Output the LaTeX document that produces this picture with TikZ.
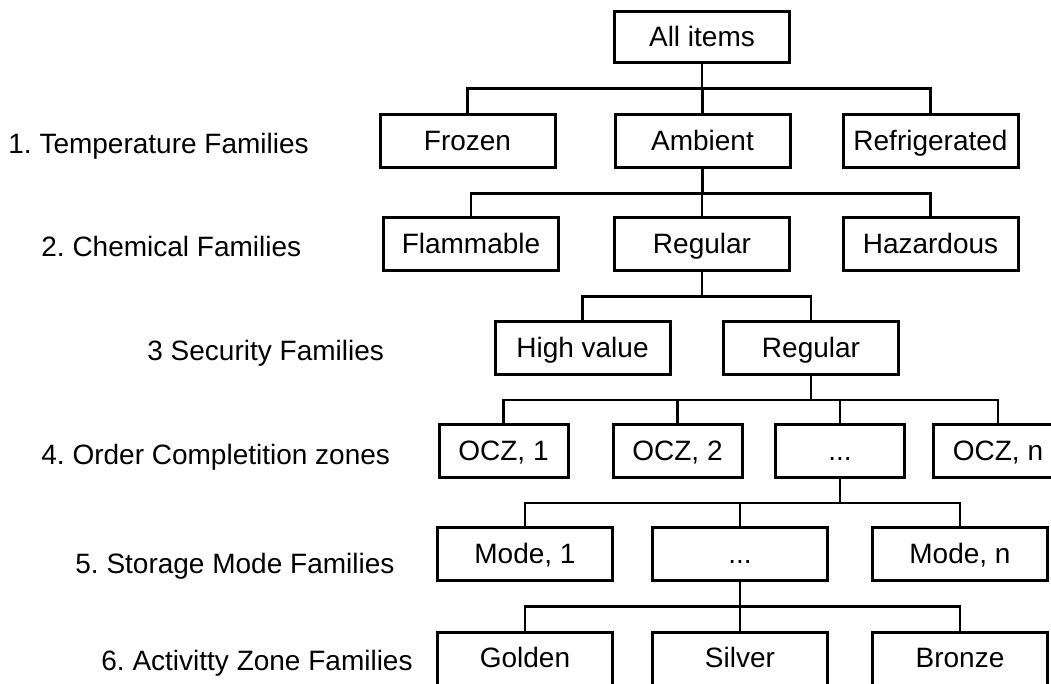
\documentclass[tikz,border=0pt]{standalone}
\usepackage{fontspec}
\setmainfont{Liberation Sans}
\frenchspacing

\begin{document}
\begin{tikzpicture}[x=0.5pt,y=-0.5pt,font=\fontsize{14}{16}\selectfont,
  fambox/.style={draw,line width=1.5pt,inner sep=0pt,text height=10pt,text depth=0.5pt,
                 minimum width=87.5pt,minimum height=26.5pt},
  oczbox/.style={fambox,minimum width=64.5pt},
  famlab/.style={anchor=base west,inner sep=0pt},
  link/.style={line width=1.2pt}]
\useasboundingbox (0,0) rectangle (1051,684);
\clip (0,0) rectangle (1051,684);

% level names on the left
\node[famlab] (lab1) at (8,154) {1. Temperature Families};
\node[famlab] (lab2) at (41,257) {2. Chemical Families};
\node[famlab] (lab3) at (147,361) {3 Security Families};
\node[famlab] (lab4) at (41,465) {4. Order Completition zones};
\node[famlab] (lab5) at (75,574) {5. Storage Mode Families};
\node[famlab] (lab6) at (101,670) {6. Activitty Zone Families};

% tree
\node[fambox,minimum height=25.5pt] (all) at (702,37.5) {All items};
\foreach \n/\x/\t in {frozen/467.5/Frozen, ambient/702.5/Ambient, refrig/930.5/Refrigerated}
  \node[fambox] (\n) at (\x,141.5) {\t};
\foreach \n/\x/\t in {flam/471/Flammable, chemreg/702/Regular, haz/930.5/Hazardous}
  \node[fambox] (\n) at (\x,244.5) {\t};
\foreach \n/\x/\t in {highval/582.5/High value, secreg/811/Regular}
  \node[fambox] (\n) at (\x,348) {\t};
\foreach \n/\x/\t in {ocza/503.5/{OCZ, 1}, oczb/677.5/{OCZ, 2}, oczdots/840/{...}, oczn/998/{OCZ, n}}
  \node[oczbox] (\n) at (\x,451) {\t};
\foreach \n/\x/\t in {modea/525/{Mode, 1}, modedots/740/{...}, moden/960/{Mode, n}}
  \node[fambox] (\n) at (\x,554.5) {\t};
\foreach \n/\x/\t in {golden/525/Golden, silver/740/Silver, bronze/960/Bronze}
  \node[fambox] (\n) at (\x,658.5) {\t};

% connectors
\foreach \p/\c in {all/frozen, all/ambient, all/refrig,
                   ambient/flam, ambient/chemreg, ambient/haz,
                   chemreg/highval, chemreg/secreg,
                   secreg/ocza, secreg/oczb, secreg/oczdots, secreg/oczn,
                   oczdots/modea, oczdots/modedots, oczdots/moden,
                   modedots/golden, modedots/silver, modedots/bronze}
  \draw[link] (\p.south) -- ++(0,24) -| (\c.north);
\end{tikzpicture}
\end{document}
